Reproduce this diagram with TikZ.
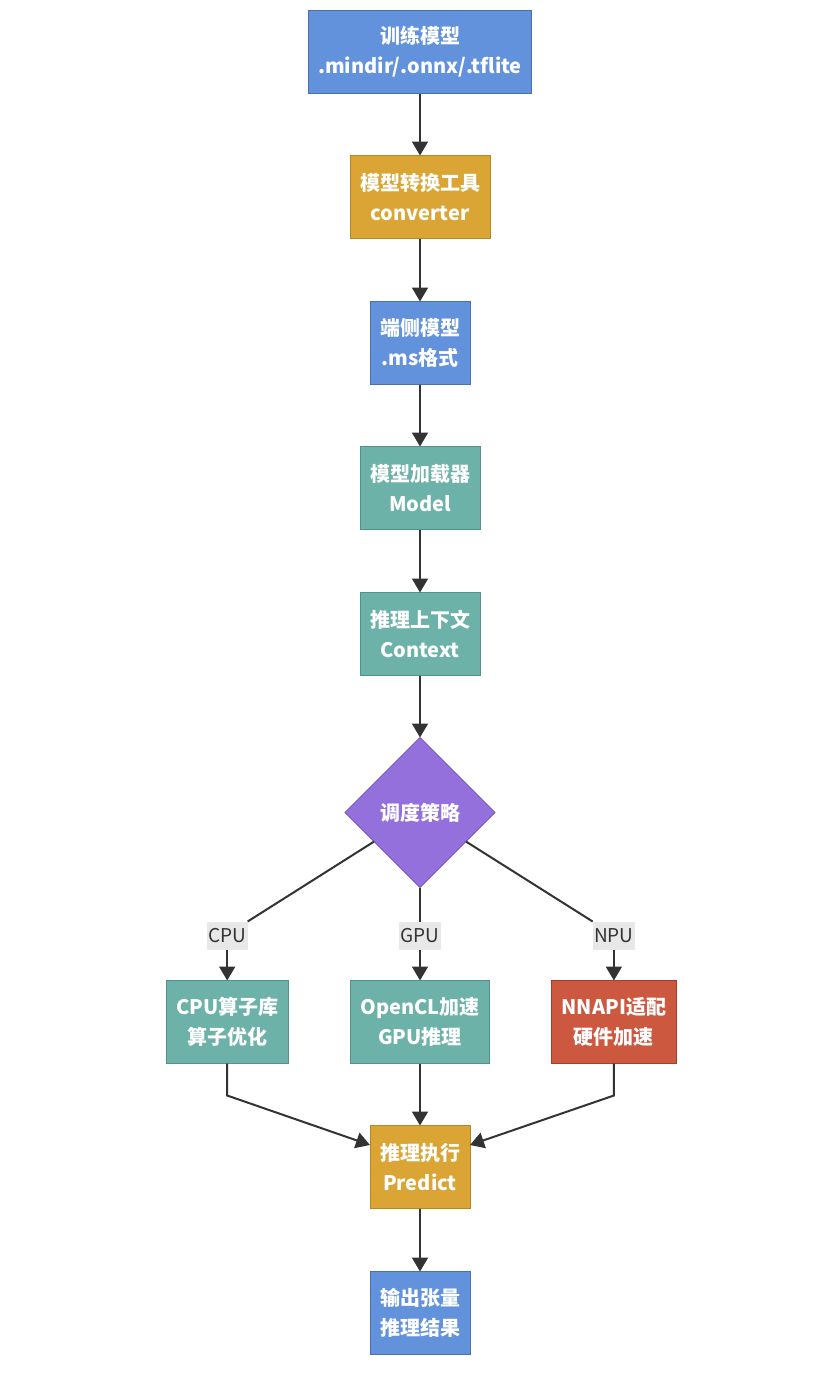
\documentclass[tikz,border=0pt]{standalone}
\usepackage{fontspec}
\setmainfont{Noto Sans CJK SC}
\usetikzlibrary{positioning,shapes.geometric,arrows.meta}
\definecolor{bluefill}{RGB}{98,146,219}
\definecolor{blueline}{RGB}{74,112,176}
\definecolor{goldfill}{RGB}{218,165,52}
\definecolor{goldline}{RGB}{184,134,30}
\definecolor{tealfill}{RGB}{108,178,168}
\definecolor{tealline}{RGB}{78,148,136}
\definecolor{purpfill}{RGB}{147,112,219}
\definecolor{purpline}{RGB}{122,88,192}
\definecolor{redfill}{RGB}{204,88,64}
\definecolor{redline}{RGB}{168,60,42}
\definecolor{linegray}{RGB}{51,51,51}
\definecolor{lblgray}{RGB}{232,232,232}

\begin{document}
\begin{tikzpicture}[x=1pt,y=-1pt,node distance=62pt,
  box/.style={draw,line width=1pt,outer sep=0pt,minimum height=83pt,inner xsep=10pt,align=center,
    text=white,font=\bfseries\fontsize{20}{30}\selectfont},
  blue/.style={box,fill=bluefill,draw=blueline},
  gold/.style={box,fill=goldfill,draw=goldline},
  teal/.style={box,fill=tealfill,draw=tealline},
  redbox/.style={box,fill=redfill,draw=redline},
  decide/.style={diamond,aspect=1,minimum width=150pt,minimum height=150pt,inner sep=0pt,outer sep=0pt,
    fill=purpfill,draw=purpline,line width=0.8pt,text=white,font=\bfseries\fontsize{20}{24}\selectfont},
  lbl/.style={fill=lblgray,inner xsep=1.5pt,inner ysep=2pt,outer sep=0pt,minimum height=28pt,
    text=linegray,font=\fontsize{19}{22}\selectfont},
  wire/.style={line width=2pt,draw=linegray},
  arr/.style={wire,-{Triangle[width=16pt,length=14pt]}}]
\useasboundingbox (0,0) rectangle (836,1382);

\node[blue] (train) at (420,52) {训练模型\\.mindir/.onnx/.tflite};
\node[gold,below=of train] (conv) {模型转换工具\\converter};
\node[blue,below=63pt of conv] (msfile) {端侧模型\\.ms格式};
\node[teal,below=of msfile] (loader) {模型加载器\\Model};
\node[teal,below=63pt of loader] (ctx) {推理上下文\\Context};
\node[decide,below=of ctx] (sched) {调度策略};

\node[teal,below=93pt of sched] (gpu) {OpenCL加速\\GPU推理};
\node[teal,left=of gpu] (cpu) {CPU算子库\\算子优化};
\node[redbox,right=of gpu] (npu) {NNAPI适配\\硬件加速};
\node[lbl,above=31pt of cpu] (cpulbl) {CPU};
\node[lbl,above=31pt of gpu] (gpulbl) {GPU};
\node[lbl,above=31pt of npu] (npulbl) {NPU};

\node[gold,below=of gpu] (pred) {推理执行\\Predict};
\node[blue,below=63pt of pred] (out) {输出张量\\推理结果};

\draw[arr] (train) -- (conv);
\draw[arr] (conv) -- (msfile);
\draw[arr] (msfile) -- (loader);
\draw[arr] (loader) -- (ctx);
\draw[arr] (ctx) -- (sched);

\draw[wire] (sched) -- (cpulbl.north east);
\draw[wire] (sched) -- (gpulbl);
\draw[wire] (sched) -- (npulbl.north west);
\draw[arr] (cpulbl) -- (cpu);
\draw[arr] (gpulbl) -- (gpu);
\draw[arr] (npulbl) -- (npu);

\draw[arr] (cpu.south) -- ++(0,32) -- ([yshift=22pt]pred.west);
\draw[arr] (gpu) -- (pred);
\draw[arr] (npu.south) -- ++(0,32) -- ([yshift=22pt]pred.east);
\draw[arr] (pred) -- (out);
\end{tikzpicture}
\end{document}
